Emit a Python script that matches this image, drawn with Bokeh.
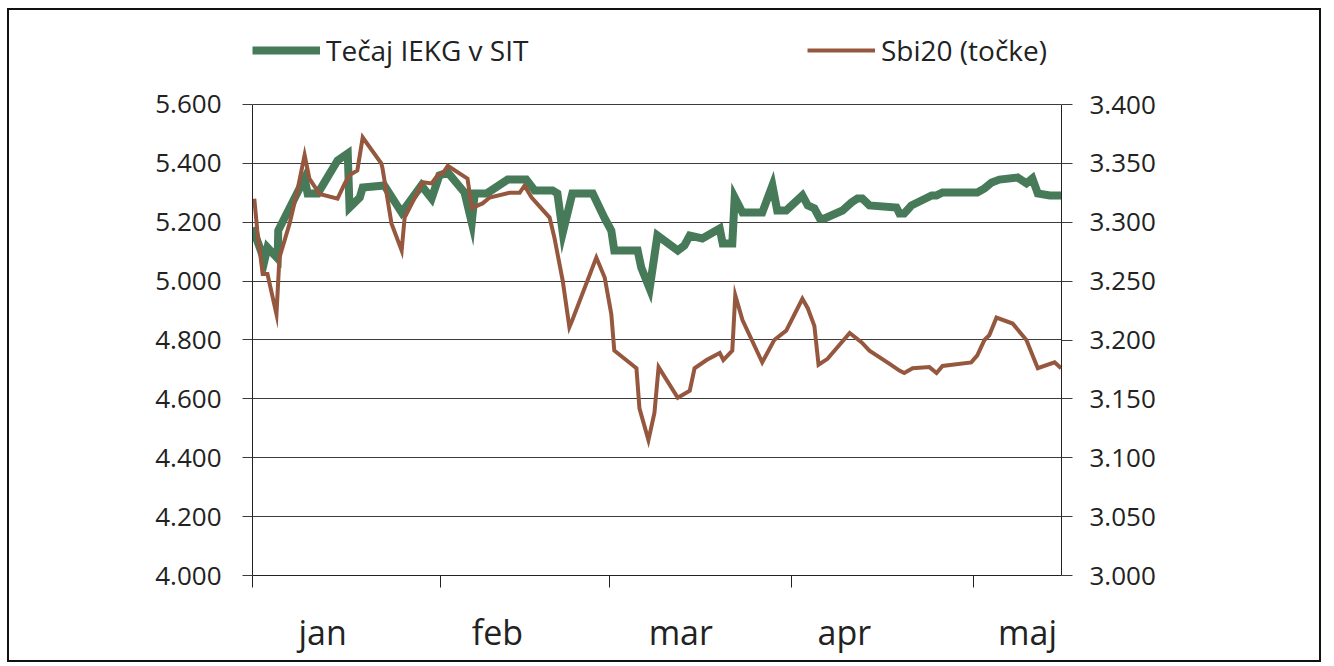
from bokeh.plotting import figure
from bokeh.models import Range1d, LinearAxis, FixedTicker, Legend, LegendItem
from bokeh.embed import file_html
from bokeh.resources import INLINE

# ---- data (x = days since 1 January) ----
months = ["jan", "feb", "mar", "apr", "maj"]
month_label_pos = [11.7, 40.9, 71.5, 98.8, 129.4]
month_starts = [0, 31.4, 59.6, 90.0, 120.4]

iekg_x = [0, 2.0, 2.5, 4.2, 4.3, 8.7, 9.2, 10.9, 14.2, 15.9, 16.2, 17.9, 18.4, 22.0,
          24.9, 28.2, 29.9, 31.2, 32.6, 35.4, 36.6, 37.1, 39.1, 42.6, 45.7, 47.1,
          50.1, 50.9, 51.8, 53.4, 56.8, 58.8, 59.9, 60.4, 64.3, 64.9, 66.3, 67.6,
          71.0, 72.1, 73.0, 75.1, 78.0, 78.5, 80.1, 80.5, 81.8, 85.1, 86.8, 87.6,
          89.1, 91.8, 92.7, 93.8, 94.7, 95.5, 98.5, 100.0, 101.0, 101.8, 103.0,
          107.5, 108.0, 108.8, 110.0, 113.4, 114.2, 115.2, 121.0, 122.2, 123.4,
          124.7, 127.7, 129.2, 130.2, 131.1, 133.1, 135.0]
iekg_y = [5182, 5070, 5114, 5077, 5172, 5349, 5298, 5298, 5410, 5434, 5250, 5284, 5318, 5325,
          5233, 5325, 5281, 5359, 5369, 5301, 5199, 5298, 5298, 5345, 5345, 5308,
          5308, 5298, 5165, 5298, 5298, 5213, 5172, 5104, 5104, 5046, 4975, 5155,
          5104, 5121, 5155, 5145, 5179, 5128, 5128, 5284, 5233, 5233, 5325, 5240,
          5240, 5291, 5257, 5247, 5213, 5213, 5240, 5267, 5281, 5281, 5257,
          5250, 5230, 5230, 5257, 5291, 5291, 5301, 5301, 5315, 5335,
          5345, 5352, 5332, 5349, 5298, 5291, 5291]

sbi_x = [0.3, 0.8, 1.7, 2.5, 4.0, 4.5, 6.2, 7.5, 8.7, 9.5, 11.2, 14.2, 15.4, 16.2, 17.5,
         18.4, 21.5, 21.7, 23.2, 24.9, 25.4, 26.7, 28.4, 29.9, 30.9, 31.7, 32.6, 35.9,
         36.6, 38.4, 39.6, 42.9, 44.6, 45.4, 46.6, 49.6, 50.4, 51.8, 52.9, 53.4, 57.4,
         58.8, 59.9, 60.4, 64.1, 64.6, 66.1, 67.1, 67.8, 71.0, 73.0, 73.8, 75.8, 78.0,
         78.6, 80.1, 80.6, 81.8, 85.1, 87.1, 89.1, 91.8, 92.7, 93.8, 94.5, 96.0, 99.7,
         101.7, 103.0, 106.3, 108.0, 108.8, 110.2, 113.0, 114.2, 115.2, 120.0, 121.0,
         122.2, 123.0, 124.2, 126.9, 129.2, 131.1, 133.9, 135.0]
sbi_y = [3320, 3293, 3256, 3256, 3222, 3270, 3299, 3327, 3357, 3337, 3324, 3320, 3333, 3340, 3344,
         3372, 3350, 3346, 3299, 3276, 3304, 3317, 3334, 3333, 3340, 3341, 3348, 3337,
         3312, 3316, 3321, 3325, 3325, 3331, 3321, 3304, 3287, 3250, 3211, 3217, 3270,
         3253, 3222, 3191, 3176, 3142, 3115, 3138, 3177, 3151, 3157, 3176, 3183, 3189,
         3183, 3191, 3238, 3217, 3181, 3200, 3208, 3235, 3227, 3212, 3179, 3184, 3206,
         3198, 3191, 3180, 3174, 3172, 3176, 3177, 3172, 3178, 3181, 3187,
         3200, 3204, 3219, 3214, 3200, 3176, 3181, 3176]

left_ticks = [4000, 4200, 4400, 4600, 4800, 5000, 5200, 5400, 5600]
right_ticks = [3000, 3050, 3100, 3150, 3200, 3250, 3300, 3350, 3400]
series_names = ["Tečaj IEKG v SIT", "Sbi20 (točke)"]


def fmt(v):
    return f"{v:,}".replace(",", ".")


GREEN = "#467a59"
BROWN = "#95583f"
TXT = "#222222"
FONT = "Open Sans"

# frame extends above the 5.600 line to leave room for the legend inside it
p = figure(width=1314, height=654,
           x_range=Range1d(0, 135.06), y_range=Range1d(4000, 5885.35),
           output_backend="svg", toolbar_location=None,
           min_border_left=243, min_border_right=262,
           min_border_top=10, min_border_bottom=89)
p.styles = {"border": "2px solid #111111", "margin-left": "7px", "margin-top": "8px"}
p.outline_line_color = None
p.background_fill_color = "white"
p.border_fill_color = "white"

p.extra_y_ranges = {"sbi": Range1d(3000, 3471.34)}

# grid
p.xgrid.visible = False
p.ygrid.ticker = FixedTicker(ticks=left_ticks)
p.ygrid.grid_line_color = "#3c3c3c"
p.ygrid.grid_line_width = 1

# left axis
ya = p.yaxis[0]
ya.ticker = FixedTicker(ticks=left_ticks)
ya.bounds = (4000, 5600)
ya.major_label_overrides = {v: fmt(v) for v in left_ticks}
ya.axis_line_color = TXT
ya.major_tick_line_color = "#3c3c3c"
ya.major_tick_out = 10
ya.major_tick_in = 0
ya.minor_tick_line_color = None
ya.major_label_standoff = 21
ya.major_label_text_font = FONT
ya.major_label_text_font_size = "26px"
ya.major_label_text_color = TXT

# right axis
ra = LinearAxis(y_range_name="sbi", ticker=FixedTicker(ticks=right_ticks))
ra.bounds = (3000, 3400)
ra.major_label_overrides = {v: fmt(v) for v in right_ticks}
ra.axis_line_color = TXT
ra.major_tick_line_color = "#3c3c3c"
ra.major_tick_out = 11
ra.major_tick_in = 0
ra.minor_tick_line_color = None
ra.major_label_standoff = 17
ra.major_label_text_font = FONT
ra.major_label_text_font_size = "26px"
ra.major_label_text_color = TXT
p.add_layout(ra, "right")

# x axis
xa = p.xaxis[0]
xa.ticker = FixedTicker(ticks=month_label_pos, minor_ticks=month_starts)
xa.major_label_overrides = {pos: m for pos, m in zip(month_label_pos, months)}
xa.axis_line_color = TXT
xa.major_tick_line_color = None
xa.major_tick_out = 0
xa.major_tick_in = 0
xa.minor_tick_line_color = TXT
xa.minor_tick_out = 12
xa.minor_tick_in = 0
xa.major_label_standoff = 21
xa.major_label_text_font = FONT
xa.major_label_text_font_size = "34px"
xa.major_label_text_color = TXT

# lines
g = p.line(iekg_x, iekg_y, line_color=GREEN, line_width=8, line_join="miter")
r = p.line(sbi_x, sbi_y, y_range_name="sbi", line_color=BROWN, line_width=4, line_join="miter")


def make_legend(item_label, rend, x):
    return Legend(items=[LegendItem(label=item_label, renderers=[rend])],
                  location=(x, 506), orientation="horizontal",
                  padding=0, margin=0, spacing=0,
                  border_line_color=None, background_fill_alpha=0,
                  glyph_width=68, glyph_height=34, label_height=34,
                  label_standoff=6,
                  label_text_font=FONT, label_text_font_size="28px",
                  label_text_color=TXT)


p.add_layout(make_legend(series_names[0], g, 0))
p.add_layout(make_legend(series_names[1], r, 555))

open("out.html", "w").write(file_html(p, INLINE))
